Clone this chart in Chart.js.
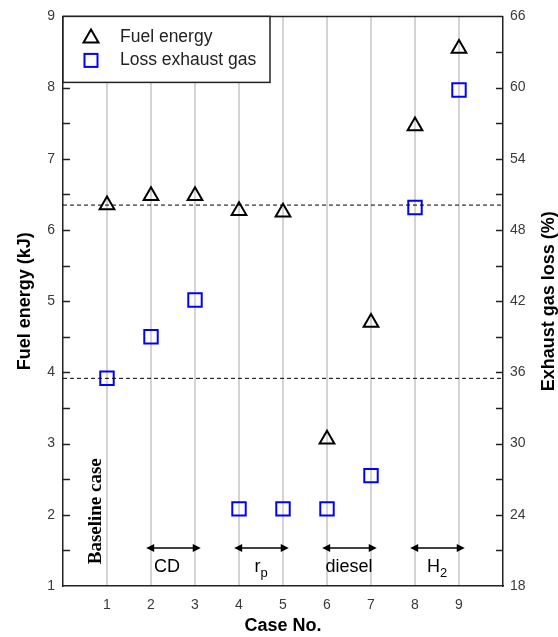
<!DOCTYPE html>
<html>
<head>
<meta charset="utf-8">
<script src="https://cdn.jsdelivr.net/npm/chart.js@4.4.1/dist/chart.umd.min.js"></script>
<style>
  html, body { margin: 0; padding: 0; background: #fff; }
</style>
</head>
<body>
<canvas id="myChart" width="558" height="637"></canvas>
<script>
// case numbers and the two series
const cases = [1, 2, 3, 4, 5, 6, 7, 8, 9];
const fuelEnergy = [6.35, 6.48, 6.48, 6.27, 6.25, 3.06, 4.70, 7.46, 8.55];
const lossExhaust = [35.5, 39.0, 42.1, 24.5, 24.5, 24.5, 27.3, 49.9, 59.8];

// groups marked with arrows under the points
const groupText = ['CD', 'r', 'diesel', 'H'];
const groupSub = ['', 'p', '', '2'];
const groupStart = [2, 4, 6, 8];
const groupEnd = [3, 5, 7, 9];

const tickColor = '#3a3a3a';
const axisColor = '#222';

function arrowHead(ctx, x, y, dir) {
    ctx.beginPath();
    ctx.moveTo(x, y);
    ctx.lineTo(x - dir * 8, y - 4);
    ctx.lineTo(x - dir * 8, y + 4);
    ctx.closePath();
    ctx.fill();
}

const overlay = {
    id: 'overlay',
    afterDraw(chart) {
        const ctx = chart.ctx;
        const a = chart.chartArea;
        const x = chart.scales.x, y = chart.scales.y, y1 = chart.scales.y1;
        ctx.save();

        // dashed lines at the baseline case
        ctx.strokeStyle = '#000';
        ctx.lineWidth = 1;
        ctx.setLineDash([4, 3]);
        [y.getPixelForValue(fuelEnergy[0]), y1.getPixelForValue(lossExhaust[0])].forEach(py => {
            ctx.beginPath();
            ctx.moveTo(a.left, py);
            ctx.lineTo(a.right, py);
            ctx.stroke();
        });
        ctx.setLineDash([]);

        // inward tick marks
        ctx.strokeStyle = axisColor;
        ctx.lineWidth = 1.5;
        for (let v = 1.5; v < 9; v += 0.5) {
            const py = Math.round(y.getPixelForValue(v)) + 0.5;
            ctx.beginPath(); ctx.moveTo(a.left, py); ctx.lineTo(a.left + 7, py); ctx.stroke();
        }
        for (let v = 21; v < 66; v += 3) {
            const py = Math.round(y1.getPixelForValue(v)) + 0.5;
            ctx.beginPath(); ctx.moveTo(a.right - 7, py); ctx.lineTo(a.right, py); ctx.stroke();
        }
        // top frame
        ctx.beginPath(); ctx.moveTo(a.left, a.top); ctx.lineTo(a.right, a.top); ctx.stroke();

        // group arrows and labels
        ctx.fillStyle = '#000';
        ctx.strokeStyle = '#000';
        ctx.lineWidth = 1.5;
        const ay = y.getPixelForValue(1.535);
        const ly = y.getPixelForValue(1.2);
        for (let i = 0; i < groupText.length; i++) {
            const xs = x.getPixelForValue(groupStart[i] - 0.11);
            const xe = x.getPixelForValue(groupEnd[i] + 0.13);
            ctx.beginPath(); ctx.moveTo(xs + 4, ay); ctx.lineTo(xe - 4, ay); ctx.stroke();
            arrowHead(ctx, xs, ay, -1);
            arrowHead(ctx, xe, ay, 1);

            ctx.font = '18px Arial, "Liberation Sans", sans-serif';
            const mainW = ctx.measureText(groupText[i]).width;
            ctx.font = '13px Arial, "Liberation Sans", sans-serif';
            const subW = groupSub[i] ? ctx.measureText(groupSub[i]).width : 0;
            let cx = x.getPixelForValue((groupStart[i] + groupEnd[i]) / 2);
            if (i === 0) cx -= 6;
            const tx = cx - (mainW + subW) / 2;
            ctx.textAlign = 'left';
            ctx.textBaseline = 'alphabetic';
            ctx.font = '18px Arial, "Liberation Sans", sans-serif';
            ctx.fillText(groupText[i], tx, ly);
            if (groupSub[i]) {
                ctx.font = '13px Arial, "Liberation Sans", sans-serif';
                ctx.fillText(groupSub[i], tx + mainW, ly + 5);
            }
        }

        // "Baseline case" note
        ctx.save();
        ctx.translate(x.getPixelForValue(0.75), y.getPixelForValue(2.05));
        ctx.rotate(-Math.PI / 2);
        ctx.font = 'bold 19px "Liberation Serif", "Times New Roman", serif';
        ctx.textAlign = 'center';
        ctx.textBaseline = 'middle';
        ctx.fillText('Baseline case', 0, 0);
        ctx.restore();

        // right axis title, reading upward
        ctx.save();
        ctx.translate(549, (a.top + a.bottom) / 2);
        ctx.rotate(-Math.PI / 2);
        ctx.font = 'bold 18px Arial, "Liberation Sans", sans-serif';
        ctx.textAlign = 'center';
        ctx.textBaseline = 'middle';
        ctx.fillText('Exhaust gas loss (%)', 0, 0);
        ctx.restore();

        // legend box
        const lx = a.left, lyTop = a.top, lw = 207, lh = 66;
        ctx.fillStyle = '#fff';
        ctx.fillRect(lx, lyTop, lw, lh);
        ctx.strokeStyle = axisColor;
        ctx.lineWidth = 1.5;
        ctx.strokeRect(lx, lyTop, lw, lh);

        const mx = lx + 28;
        const t1 = lyTop + 21, t2 = lyTop + 44;
        ctx.strokeStyle = '#000';
        ctx.lineWidth = 2;
        ctx.beginPath();
        ctx.moveTo(mx, t1 - 8);
        ctx.lineTo(mx + 7.5, t1 + 5);
        ctx.lineTo(mx - 7.5, t1 + 5);
        ctx.closePath();
        ctx.stroke();
        ctx.strokeStyle = '#0000ff';
        ctx.strokeRect(mx - 6.5, t2 - 6.5, 13, 13);

        ctx.fillStyle = '#222';
        ctx.font = '17.5px Arial, "Liberation Sans", sans-serif';
        ctx.textAlign = 'left';
        ctx.textBaseline = 'middle';
        ctx.fillText(chart.data.datasets[0].label, lx + 57, t1);
        ctx.fillText(chart.data.datasets[1].label, lx + 57, t2);

        ctx.restore();
    }
};

const ctx = document.getElementById('myChart').getContext('2d');
const myChart = new Chart(ctx, {
    type: 'scatter',
    data: {
        datasets: [{
            label: 'Fuel energy',
            data: cases.map((c, i) => ({ x: c, y: fuelEnergy[i] })),
            yAxisID: 'y',
            pointStyle: 'triangle',
            radius: 8.5,
            borderWidth: 2,
            borderColor: '#000',
            backgroundColor: 'rgba(0,0,0,0)'
        }, {
            label: 'Loss exhaust gas',
            data: cases.map((c, i) => ({ x: c, y: lossExhaust[i] })),
            yAxisID: 'y1',
            pointStyle: 'rect',
            radius: 9.5,
            borderWidth: 2,
            borderColor: '#0000ff',
            backgroundColor: 'rgba(0,0,0,0)'
        }]
    },
    options: {
        responsive: false,
        animation: false,
        layout: { padding: { top: 15, left: 0, right: 0, bottom: 0 } },
        plugins: {
            legend: { display: false },
            tooltip: { enabled: false }
        },
        scales: {
            x: {
                type: 'linear',
                min: 0,
                max: 10,
                afterBuildTicks: s => { s.ticks = cases.map(v => ({ value: v })); },
                afterFit: s => { s.height = 51; },
                grid: { color: '#d4d4d4', lineWidth: 2, drawTicks: false },
                border: { color: axisColor, width: 1.5 },
                ticks: { color: tickColor, font: { size: 14, family: 'Arial, "Liberation Sans", sans-serif' }, padding: 11 },
                title: {
                    display: true,
                    text: 'Case No.',
                    color: '#000',
                    font: { size: 18, weight: 'bold', family: 'Arial, "Liberation Sans", sans-serif' },
                    padding: { top: 0, bottom: 0 }
                }
            },
            y: {
                position: 'left',
                min: 1,
                max: 9,
                afterFit: s => { s.width = 63; },
                grid: { display: false, drawTicks: false },
                border: { color: axisColor, width: 1.5 },
                ticks: { stepSize: 1, color: tickColor, font: { size: 14, family: 'Arial, "Liberation Sans", sans-serif' }, padding: 8 },
                title: {
                    display: true,
                    text: 'Fuel energy (kJ)',
                    color: '#000',
                    font: { size: 18, weight: 'bold', family: 'Arial, "Liberation Sans", sans-serif' },
                    padding: { top: 14, bottom: 0 }
                }
            },
            y1: {
                position: 'right',
                min: 18,
                max: 66,
                afterFit: s => { s.width = 55; },
                grid: { display: false, drawTicks: false },
                border: { color: axisColor, width: 1.5 },
                ticks: { stepSize: 6, color: tickColor, font: { size: 14, family: 'Arial, "Liberation Sans", sans-serif' }, padding: 7 }
            }
        }
    },
    plugins: [overlay]
});
</script>
</body>
</html>
